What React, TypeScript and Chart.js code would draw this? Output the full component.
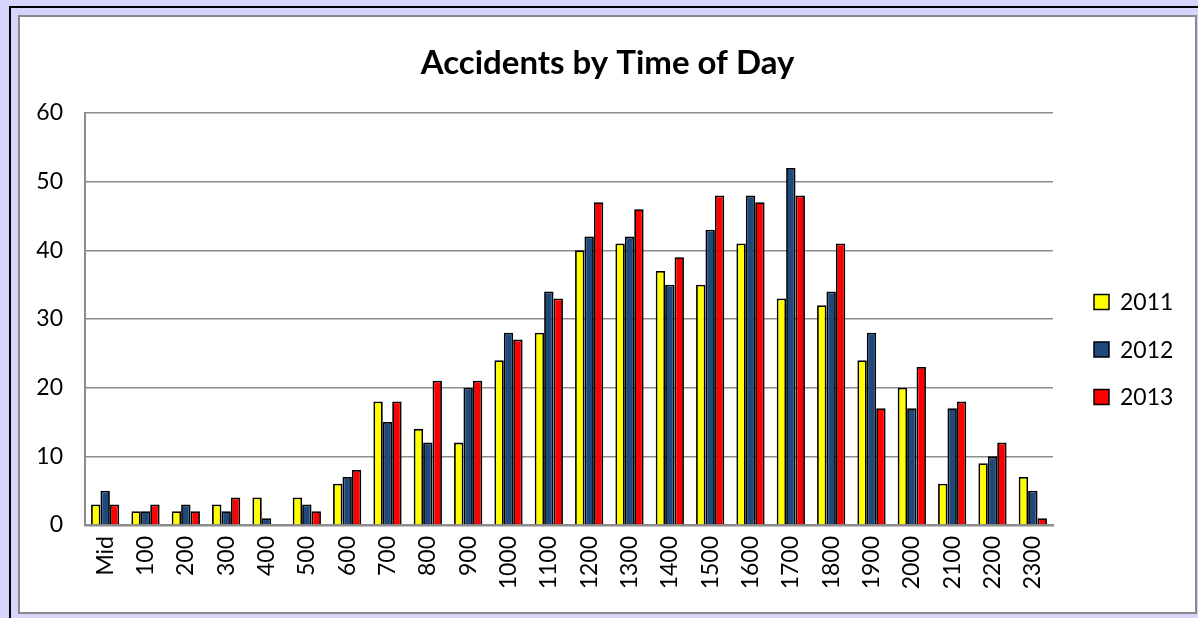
import React, { useEffect, useRef } from "react";
import { Chart, registerables } from "chart.js";

Chart.register(...registerables);

const categories = ["Mid", "100", "200", "300", "400", "500", "600", "700", "800", "900", "1000", "1100", "1200", "1300", "1400", "1500", "1600", "1700", "1800", "1900", "2000", "2100", "2200", "2300"];
const series2011 = [3, 2, 2, 3, 4, 4, 6, 18, 14, 12, 24, 28, 40, 41, 37, 35, 41, 33, 32, 24, 20, 6, 9, 7];
const series2012 = [5, 2, 3, 2, 1, 3, 7, 15, 12, 20, 28, 34, 42, 42, 35, 43, 48, 52, 34, 28, 17, 17, 10, 5];
const series2013 = [3, 3, 2, 4, 0, 2, 8, 18, 21, 21, 27, 33, 47, 46, 39, 48, 47, 48, 41, 17, 23, 18, 12, 1];
const seriesNames = ["2011", "2012", "2013"];
const seriesColors = ["#ffff00", "#1f497d", "#ff0000"];
const titleText = "Accidents by Time of Day";

const FONT = "Lato, 'Noto Sans', sans-serif";

const titlePlugin = {
  id: "centeredTitle",
  afterDraw(chart: any) {
    const ctx = chart.ctx;
    ctx.save();
    ctx.fillStyle = "#000";
    ctx.font = `bold 33px ${FONT}`;
    ctx.textAlign = "center";
    ctx.textBaseline = "alphabetic";
    ctx.fillText(titleText, chart.width / 2, 57);
    ctx.restore();
  },
};

const legendPlugin = {
  id: "customLegend",
  afterDraw(chart: any) {
    const ctx = chart.ctx;
    const x = chart.chartArea.right + 41;
    const y0 = 285;
    const gap = 47.5;
    ctx.save();
    chart.data.datasets.forEach((ds: any, i: number) => {
      const cy = y0 + i * gap;
      ctx.fillStyle = ds.backgroundColor;
      ctx.fillRect(x, cy - 7.5, 15, 15);
      ctx.lineWidth = 1.5;
      ctx.strokeStyle = "#000";
      ctx.strokeRect(x, cy - 7.5, 15, 15);
      ctx.fillStyle = "#000";
      ctx.font = `23px ${FONT}`;
      ctx.textBaseline = "middle";
      ctx.textAlign = "left";
      ctx.fillText(ds.label, x + 26, cy + 1);
    });
    ctx.restore();
  },
};

export default function App() {
  const ref = useRef<HTMLCanvasElement | null>(null);

  useEffect(() => {
    if (!ref.current) return;
    const values = [series2011, series2012, series2013];
    const chart = new Chart(ref.current, {
      type: "bar",
      data: {
        labels: categories,
        datasets: values.map((v, i) => ({
          label: seriesNames[i],
          data: v,
          backgroundColor: seriesColors[i],
          borderColor: "#000",
          borderWidth: 1.8,
          categoryPercentage: 0.7,
          barPercentage: 1.0,
        })),
      },
      options: {
        animation: false,
        responsive: false,
        layout: { padding: { left: 10, right: 142, top: 96, bottom: 0 } },
        plugins: {
          legend: { display: false },
          tooltip: { enabled: false },
          title: { display: false },
        },
        scales: {
          x: {
            grid: { display: false, drawTicks: false },
            border: { color: "#8c8c8c", width: 2.5 },
            ticks: {
              color: "#000",
              font: { family: FONT, size: 23 },
              maxRotation: 90,
              minRotation: 90,
              padding: 11,
              autoSkip: false,
            },
            afterFit(scale: any) {
              scale.height = 87;
            },
          },
          y: {
            min: 0,
            max: 60,
            grid: { color: "#8c8c8c", lineWidth: 1.5, drawTicks: false },
            border: { color: "#8c8c8c", width: 2 },
            ticks: {
              stepSize: 10,
              color: "#000",
              font: { family: FONT, size: 23 },
              padding: 22,
            },
            afterFit(scale: any) {
              scale.width = 55;
            },
          },
        },
      },
      plugins: [legendPlugin, titlePlugin],
    } as any);
    return () => chart.destroy();
  }, []);

  return (
    <div style={{ position: "fixed", inset: 0, background: "#d4d4fc", overflow: "hidden" }}>
      <div
        style={{
          position: "absolute",
          left: 9,
          top: 6,
          width: 1300,
          height: 700,
          border: "2px solid #000",
          boxSizing: "border-box",
        }}
      />
      <div
        style={{
          position: "absolute",
          left: 18,
          top: 15,
          width: 1179,
          height: 599,
          border: "2px solid #8a8a8a",
          background: "#fff",
          boxSizing: "border-box",
        }}
      >
        <canvas ref={ref} width={1175} height={595} style={{ display: "block" }} />
      </div>
    </div>
  );
}
